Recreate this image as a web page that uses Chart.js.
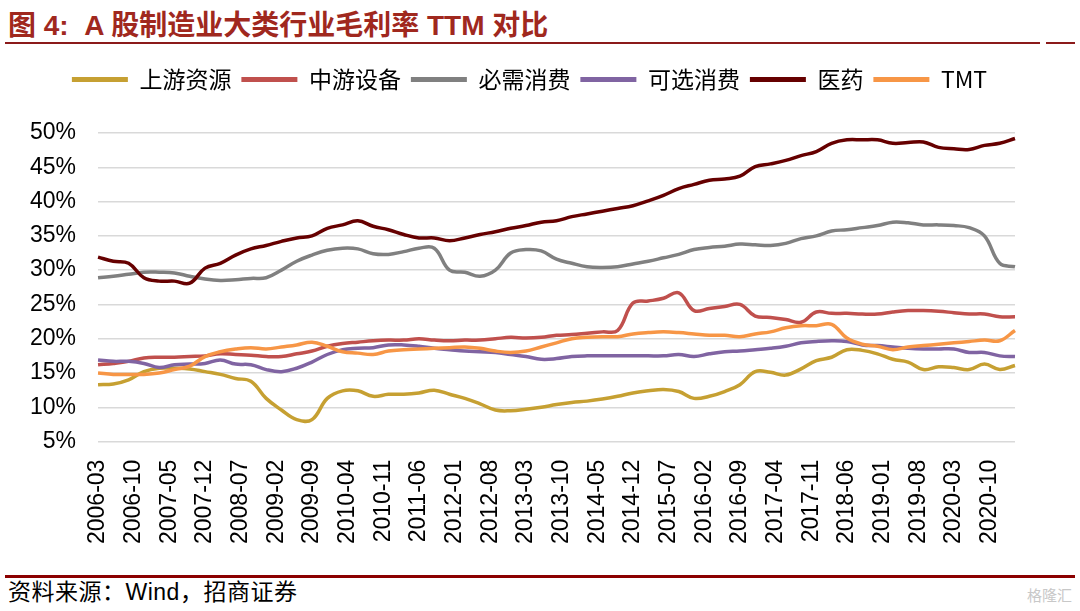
<!doctype html>
<html lang="zh">
<head>
<meta charset="utf-8">
<title>A股制造业大类行业毛利率TTM对比</title>
<script src="https://cdn.jsdelivr.net/npm/chart.js"></script>
<style>
  body { margin: 0; width: 1080px; height: 611px; background: #fff; position: relative; overflow: hidden;
         font-family: "Liberation Sans", "Noto Sans CJK SC", sans-serif; }
  .title { position: absolute; left: 8px; top: 9px; line-height: 34px; font-size: 28px; font-weight: bold; color: #a0281e;
           font-family: "Liberation Sans", "Noto Sans CJK SC", sans-serif; white-space: nowrap; }
  .rule { position: absolute; background: #8b1a1a; }
  .source { position: absolute; left: 8px; top: 579px; line-height: 26px; font-size: 23px; letter-spacing: 0.5px; color: #000; white-space: nowrap; }
  .mark { position: absolute; right: 8px; top: 584px; font-size: 15px; color: #c8c8c8; }
  #box { position: absolute; left: 0; top: 58px; width: 1080px; height: 496px; }
</style>
</head>
<body>
<div class="title">图 4:&nbsp; A 股制造业大类行业毛利率 TTM 对比</div>
<div class="rule" style="left:5px; top:42px; width:1035px; height:2px;"></div>
<div class="rule" style="left:1046px; top:42px; width:29px; height:2px;"></div>

<div id="box"><canvas id="myChart" width="1080" height="496"></canvas></div>

<div class="rule" style="left:5px; top:575px; width:1070px; height:3px; background:#8b0000;"></div>
<div class="source">资料来源：Wind，招商证券</div>
<div class="mark">格隆汇</div>

<script>
// quarterly TTM gross margin (%), 2006-03 .. 2021-03
var upstream = [13.3, 13.4, 14.0, 15.2, 15.7, 15.7, 15.6, 15.2, 14.8, 14.2, 13.8,
  11.3, 9.6, 8.2, 8.2, 11.3, 12.4, 12.4, 11.6, 11.9, 11.9,
  12.1, 12.5, 11.9, 11.3, 10.5, 9.6, 9.5, 9.7, 10.0, 10.4,
  10.7, 10.9, 11.2, 11.6, 12.1, 12.4, 12.6, 12.3, 11.3, 11.6,
  12.3, 13.3, 15.2, 15.1, 14.7, 15.6, 16.8, 17.3, 18.4, 18.3,
  17.8, 17.0, 16.6, 15.5, 15.9, 15.8, 15.5, 16.3, 15.5, 16.1];
var midstream = [16.2, 16.4, 16.7, 17.2, 17.3, 17.3, 17.4, 17.5, 17.8, 17.7, 17.6,
  17.4, 17.4, 17.8, 18.2, 18.9, 19.3, 19.5, 19.7, 19.8, 19.8,
  20.0, 19.8, 19.7, 19.8, 19.8, 20.0, 20.2, 20.1, 20.2, 20.5,
  20.6, 20.8, 21.0, 21.2, 25.2, 25.5, 25.9, 26.7, 24.1, 24.4,
  24.7, 25.0, 23.3, 23.1, 22.8, 22.4, 23.9, 23.7, 23.7, 23.6,
  23.6, 23.9, 24.1, 24.1, 24.0, 23.8, 23.6, 23.6, 23.2, 23.2];
var staples = [28.9, 29.1, 29.4, 29.7, 29.7, 29.6, 29.1, 28.7, 28.5, 28.6, 28.8,
  28.9, 30.0, 31.3, 32.2, 32.9, 33.2, 33.1, 32.4, 32.3, 32.7,
  33.2, 33.2, 30.0, 29.7, 29.1, 30.0, 32.5, 33.0, 32.8, 31.6,
  31.0, 30.5, 30.4, 30.5, 30.9, 31.3, 31.8, 32.3, 33.0, 33.3,
  33.5, 33.8, 33.7, 33.6, 33.9, 34.6, 35.0, 35.7, 35.9, 36.2,
  36.5, 37.0, 36.9, 36.6, 36.6, 36.5, 36.2, 35.0, 31.0, 30.5];
var discretionary = [16.9, 16.7, 16.7, 16.4, 15.8, 16.2, 16.3, 16.4, 16.9, 16.3, 16.2,
  15.5, 15.2, 15.7, 16.6, 17.7, 18.4, 18.6, 18.7, 19.1, 19.1,
  18.9, 18.6, 18.4, 18.2, 18.1, 18.0, 17.7, 17.4, 17.0, 17.1,
  17.4, 17.5, 17.5, 17.5, 17.5, 17.5, 17.5, 17.7, 17.4, 17.8,
  18.1, 18.2, 18.4, 18.6, 18.9, 19.4, 19.6, 19.7, 19.6, 19.1,
  19.0, 18.8, 18.6, 18.5, 18.5, 18.5, 18.0, 18.0, 17.5, 17.4];
var pharma = [31.9, 31.3, 31.0, 28.9, 28.4, 28.4, 28.1, 30.3, 31.0, 32.2, 33.1,
  33.6, 34.2, 34.7, 35.0, 36.1, 36.6, 37.2, 36.4, 35.9, 35.2,
  34.7, 34.7, 34.3, 34.7, 35.2, 35.6, 36.1, 36.5, 37.0, 37.2,
  37.8, 38.2, 38.6, 39.0, 39.4, 40.1, 40.9, 41.9, 42.5, 43.1,
  43.3, 43.7, 45.1, 45.5, 46.0, 46.7, 47.3, 48.5, 49.0, 49.0,
  49.0, 48.5, 48.6, 48.7, 47.9, 47.7, 47.6, 48.2, 48.5, 49.2];
var tmt = [15.0, 14.8, 14.8, 14.8, 15.0, 15.5, 16.0, 17.4, 18.1, 18.5, 18.7,
  18.5, 18.8, 19.1, 19.5, 18.9, 18.1, 17.9, 17.7, 18.2, 18.4,
  18.5, 18.6, 18.7, 18.8, 18.6, 18.2, 18.0, 18.2, 18.8, 19.4,
  20.0, 20.2, 20.3, 20.3, 20.7, 20.9, 21.0, 20.9, 20.7, 20.5,
  20.5, 20.3, 20.7, 21.0, 21.6, 21.9, 21.9, 22.1, 20.1, 19.2,
  18.9, 18.4, 18.8, 19.0, 19.2, 19.4, 19.6, 19.8, 19.7, 21.2];

var seriesNames = ['上游资源', '中游设备', '必需消费', '可选消费', '医药', 'TMT'];
var seriesColors = ['#c6a032', '#c0504d', '#808080', '#8064a2', '#660000', '#f79646'];
var yTicks = [5, 50, 5]; // min, max, step

// month axis 2006-03 .. 2021-03, a label shown every 7 months
var months = [];
for (var y = 2006, m = 3; y < 2021 || (y === 2021 && m <= 3); m++) {
  if (m > 12) { m = 1; y++; if (y === 2021 && m > 3) break; }
  months.push(y + '-' + (m < 10 ? '0' : '') + m);
}

function toPoints(values) {
  return values.map(function (v, i) { return { x: months[i * 3], y: v }; });
}

var allSeries = [upstream, midstream, staples, discretionary, pharma, tmt];
var datasets = allSeries.map(function (vals, i) {
  return {
    label: seriesNames[i],
    data: toPoints(vals),
    borderColor: seriesColors[i],
    backgroundColor: seriesColors[i],
    borderWidth: 3.5,
    pointRadius: 0,
    tension: 0.4,
    fill: false,
    order: allSeries.length - i
  };
});

// extra room between legend and plot, and nudge legend to the right
var legendGap = {
  id: 'legendGap',
  beforeInit: function (chart) {
    var lg = chart.legend;
    var fit = lg.fit;
    lg.fit = function () { fit.call(this); this.height += 32; };
    var draw = lg.draw;
    lg.draw = function () {
      var c = this.ctx;
      c.save();
      c.translate(18, 0);
      draw.apply(this, arguments);
      c.restore();
    };
  }
};

var tickFont = { family: '"Liberation Sans", Arial, sans-serif', size: 23 };

new Chart(document.getElementById('myChart'), {
  type: 'line',
  data: { labels: months, datasets: datasets },
  plugins: [legendGap],
  options: {
    responsive: false,
    animation: false,
    layout: { padding: { left: 8, right: 65, top: 0, bottom: 0 } },
    plugins: {
      tooltip: { enabled: false },
      legend: {
        position: 'top',
        labels: {
          boxWidth: 56,
          boxHeight: 5,
          padding: 10,
          color: '#000',
          font: { family: '"Noto Sans CJK SC", "Liberation Sans", sans-serif', size: 23 },
          sort: function (a, b) { return a.datasetIndex - b.datasetIndex; },
          generateLabels: function (chart) {
            var items = Chart.defaults.plugins.legend.labels.generateLabels(chart);
            items.forEach(function (it) { it.lineWidth = 0; });
            return items;
          }
        }
      }
    },
    scales: {
      x: {
        type: 'category',
        grid: { display: false },
        border: { display: false },
        ticks: {
          autoSkip: false,
          maxRotation: 90,
          minRotation: 90,
          padding: 10,
          color: '#000',
          font: tickFont,
          callback: function (val, idx) {
            return (idx % 7 === 0 && idx <= 175) ? this.getLabelForValue(val) : null;
          }
        }
      },
      y: {
        min: yTicks[0],
        max: yTicks[1],
        grid: { color: '#d9d9d9', lineWidth: 1.5, drawTicks: false },
        border: { display: false },
        ticks: {
          stepSize: yTicks[2],
          padding: 22,
          color: '#000',
          font: tickFont,
          callback: function (v) { return v + '%'; }
        }
      }
    }
  }
});
</script>
</body>
</html>
